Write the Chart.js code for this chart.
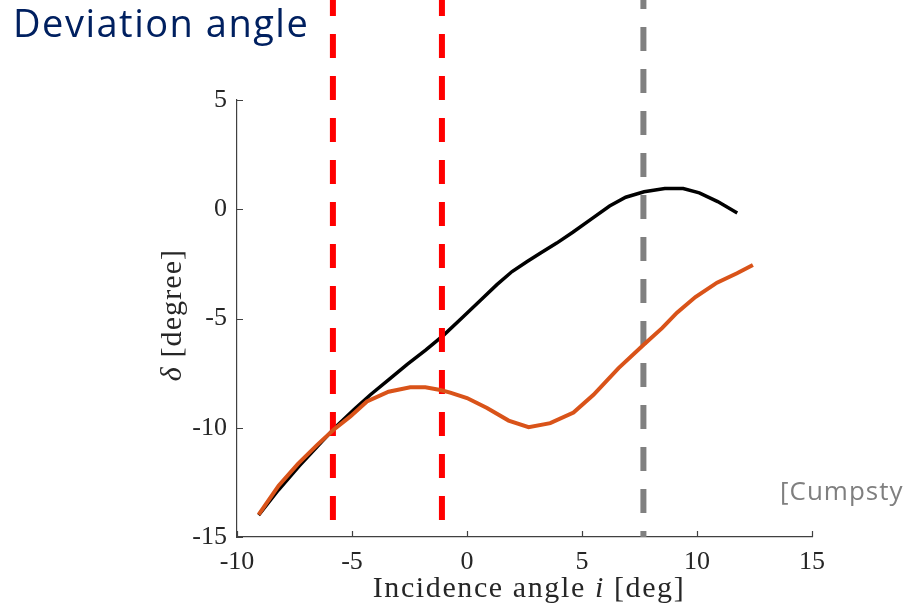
<!DOCTYPE html>
<html>
<head>
<meta charset="utf-8">
<script src="https://cdn.jsdelivr.net/npm/chart.js@4.4.1/dist/chart.umd.min.js"></script>
<style>
  html, body { margin: 0; padding: 0; background: #ffffff; }
  #wrap { width: 903px; height: 613px; position: relative; }
</style>
</head>
<body>
<div id="wrap"><canvas id="c" width="903" height="613"></canvas></div>
<script>
// Deviation angle vs. incidence angle, two cascade test curves
const incidenceBlack = [-9.06, -8.2, -7.3, -6.5, -5.7, -4.9, -4.2, -3.4, -2.6, -1.8, -1.0, -0.2, 0.6, 1.3, 1.96, 2.6, 3.2, 3.9, 4.6, 5.4, 6.2, 6.9, 7.7, 8.6, 9.4, 10.1, 10.9, 11.75];
const deviationBlack = [-14.0, -12.85, -11.75, -10.85, -9.95, -9.15, -8.49, -7.8, -7.1, -6.45, -5.75, -4.95, -4.15, -3.45, -2.85, -2.4, -2.0, -1.55, -1.05, -0.45, 0.15, 0.55, 0.8, 0.95, 0.95, 0.75, 0.35, -0.17];

const incidenceOrange = [-9.06, -8.19, -7.35, -6.5, -5.8, -5.07, -4.35, -3.41, -2.47, -1.81, -1.16, -0.73, 0.0, 0.87, 1.81, 2.68, 3.62, 4.63, 5.5, 6.59, 7.68, 8.48, 9.13, 9.93, 10.87, 11.74, 12.43];
const deviationOrange = [-13.98, -12.65, -11.65, -10.77, -10.09, -9.48, -8.8, -8.35, -8.15, -8.15, -8.27, -8.39, -8.64, -9.1, -9.67, -9.97, -9.79, -9.3, -8.49, -7.27, -6.2, -5.44, -4.73, -4.02, -3.36, -2.93, -2.55];

// vertical reference incidences
const markerRed = [-5.83, -1.09];
const markerGrey = [7.67];

const xTicks = [-10, -5, 0, 5, 10, 15];
const yTicks = [-15, -10, -5, 0, 5];

const toPoints = (xs, ys) => xs.map((x, i) => ({ x: x, y: ys[i] }));

const serif = '"Liberation Serif", "Times New Roman", serif';
const sans = '"Open Sans", Lato, sans-serif';

// dashed verticals drawn after the black curve, beneath the orange one
const markerPlugin = {
  id: 'markers',
  afterDatasetDraw(chart, args) {
    if (args.index !== 1) return;
    const ctx = chart.ctx;
    const xs = chart.scales.x;
    const bottom = chart.chartArea.bottom;
    const drawSet = (vals, color, offset) => {
      vals.forEach(v => {
        const px = xs.getPixelForValue(v);
        ctx.save();
        ctx.strokeStyle = color;
        ctx.lineWidth = 6;
        ctx.setLineDash([24, 18]);
        ctx.lineDashOffset = offset;
        ctx.beginPath();
        ctx.moveTo(px, 0);
        ctx.lineTo(px, bottom);
        ctx.stroke();
        ctx.restore();
      });
    };
    drawSet(markerRed, '#ff0000', 8);
    drawSet(markerGrey, '#808080', 15);
  }
};

// draws text runs of mixed style one after another, centred on cx
function drawRuns(ctx, runs, cx, baseline, spacing) {
  ctx.letterSpacing = spacing + 'px';
  let total = 0;
  runs.forEach(r => { ctx.font = r.f; r.w = ctx.measureText(r.t).width; total += r.w; });
  let x = cx - total / 2;
  ctx.textAlign = 'left';
  runs.forEach(r => { ctx.font = r.f; ctx.fillText(r.t, x, baseline); x += r.w; });
  ctx.letterSpacing = '0px';
}

// inward tick marks, axis titles, heading and source note
const decorPlugin = {
  id: 'decor',
  afterDraw(chart) {
    const ctx = chart.ctx;
    const { left, bottom } = chart.chartArea;
    const xs = chart.scales.x, ys = chart.scales.y;
    ctx.save();
    ctx.strokeStyle = '#404040';
    ctx.lineWidth = 1.2;
    ctx.beginPath();
    xTicks.forEach(v => {
      const px = Math.round(xs.getPixelForValue(v)) + 0.5;
      ctx.moveTo(px, bottom);
      ctx.lineTo(px, bottom - 6);
    });
    yTicks.forEach(v => {
      const py = Math.round(ys.getPixelForValue(v)) + 0.5;
      ctx.moveTo(left, py);
      ctx.lineTo(left + 6, py);
    });
    ctx.stroke();

    ctx.fillStyle = '#262626';
    ctx.textBaseline = 'alphabetic';
    drawRuns(ctx, [
      { t: 'Incidence angle ', f: '30px ' + serif },
      { t: 'i', f: 'italic 30px ' + serif },
      { t: ' [deg]', f: '30px ' + serif }
    ], 529, 597, 1.6);

    ctx.save();
    ctx.translate(181, 315);
    ctx.rotate(-Math.PI / 2);
    drawRuns(ctx, [
      { t: 'δ', f: 'italic 30px ' + serif },
      { t: ' [degree]', f: '30px ' + serif }
    ], 0, 0, 1.1);
    ctx.restore();

    // heading
    ctx.fillStyle = '#002060';
    ctx.font = '38px ' + sans;
    ctx.letterSpacing = '1.5px';
    ctx.textAlign = 'left';
    ctx.fillText('Deviation angle', 13, 37);

    // source note
    ctx.fillStyle = '#7f7f7f';
    ctx.font = '26px ' + sans;
    ctx.letterSpacing = '1px';
    ctx.fillText('[Cumpsty', 780, 500);
    ctx.letterSpacing = '0px';
    ctx.restore();
  }
};

new Chart(document.getElementById('c'), {
  type: 'scatter',
  data: {
    datasets: [
      {
        label: 'orange',
        data: toPoints(incidenceOrange, deviationOrange),
        showLine: true,
        borderColor: '#d95319',
        borderWidth: 4,
        pointRadius: 0,
        tension: 0,
        clip: false
      },
      {
        label: 'black',
        data: toPoints(incidenceBlack, deviationBlack),
        showLine: true,
        borderColor: '#000000',
        borderWidth: 3.5,
        pointRadius: 0,
        tension: 0,
        clip: false
      }
    ]
  },
  options: {
    responsive: false,
    animation: false,
    events: [],
    layout: { padding: { left: 0, top: 100, right: 91, bottom: 0 } },
    plugins: { legend: { display: false }, tooltip: { enabled: false }, title: { display: false } },
    scales: {
      x: {
        type: 'linear',
        min: -10, max: 15,
        afterBuildTicks: s => { s.ticks = xTicks.map(v => ({ value: v })); },
        afterFit: s => { s.height = 76; },
        grid: { display: false, drawTicks: false },
        border: { display: true, color: '#404040', width: 1.2 },
        ticks: {
          color: '#262626',
          font: { family: serif, size: 26 },
          padding: 10,
          maxRotation: 0,
          callback: v => String(v)
        }
      },
      y: {
        type: 'linear',
        min: -15, max: 5,
        afterBuildTicks: s => { s.ticks = yTicks.map(v => ({ value: v })); },
        afterFit: s => { s.width = 237; },
        grid: { display: false, drawTicks: false },
        border: { display: true, color: '#404040', width: 1.2 },
        ticks: {
          color: '#262626',
          font: { family: serif, size: 26 },
          padding: 10,
          callback: v => String(v)
        }
      }
    }
  },
  plugins: [markerPlugin, decorPlugin]
});
</script>
</body>
</html>
